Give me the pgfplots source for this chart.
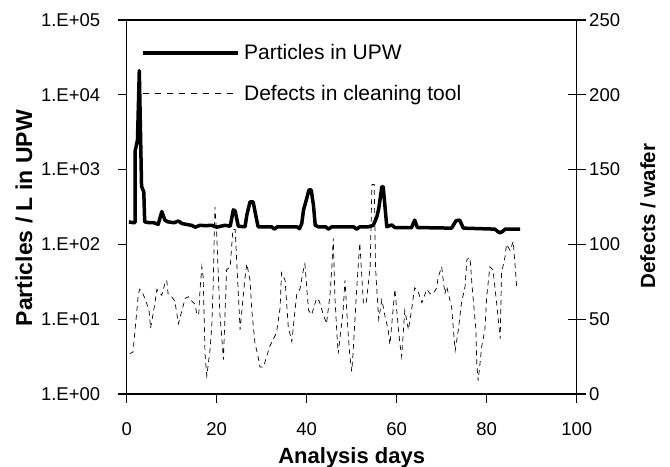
\documentclass[border=0pt]{standalone}
\usepackage{fontspec}
\setmainfont{Liberation Sans}
\usepackage{pgfplots}
\pgfplotsset{compat=1.18}
\pgfplotstableread{
x y
0.5 200
1.5 195
1.85 195
1.9 1800
2.4 2500
2.8 21000
3.3 600
3.8 500
4.0 200
5.0 195
6.0 195
7.0 185
7.8 275
8.5 210
9.2 200
10.5 195
11.5 205
12.3 190
13.3 185
14.4 180
15.2 170
16.3 180
17.5 178
18.9 180
20.0 170
21.8 180
23.0 175
23.7 290
24.1 280
24.8 175
26.3 172
26.7 248
27.4 370
28.1 370
28.9 210
29.2 172
32.2 172
32.8 160
33.5 172
37.8 172
38.4 162
38.9 190
39.3 290
40.0 410
40.5 535
41.0 535
41.5 335
41.9 180
42.6 172
44.2 172
44.8 160
45.6 172
50.4 172
51.1 160
51.8 172
53.7 172
54.8 180
55.6 235
56.0 300
56.7 590
57.0 590
57.4 318
57.8 172
58.9 182
59.6 168
63.3 168
64.0 211
64.6 168
72.2 165
73.2 208
74.0 211
74.8 165
81.8 160
82.5 148
83.0 143
83.6 150
84.1 160
87.4 160
}\particles
\pgfplotstableread{
x y
0.7 27
1.4 28
2.6 67
2.9 70
3.6 67
4.3 62
5.0 55
5.3 44
6.3 61
6.7 70
7.8 66
8.5 74
8.9 76
9.2 67
10.0 65
10.7 62
11.5 47
12.2 55
13.0 64
13.7 65
14.5 62
15.2 60
15.6 53
16.0 53
16.3 70
16.7 85
17.0 78
17.4 27
17.8 12
18.5 29
18.9 45
19.2 70
19.6 125
20.0 107
20.7 54
21.5 23
22.2 83
23.0 85
23.6 110
24.1 110
25.2 43
26.3 78
26.7 87
27.4 76
27.8 56
28.5 34
29.2 25
29.6 18
30.4 18
31.8 32
33.3 41
34.1 58
34.4 81
35.2 76
35.9 45
36.7 35
37.4 56
37.8 67
38.5 70
39.2 82
39.6 87
40.4 56
41.1 53
42.2 64
42.8 62
43.7 53
44.4 47
45.2 67
45.6 85
45.9 104
46.3 63
46.7 41
47.0 27
48.1 56
48.5 76
49.2 41
49.6 25
50.0 15
50.3 27
51.1 70
51.5 88
51.8 101
52.6 61
53.2 60
53.7 74
54.1 85
54.5 140
55.0 140
55.3 85
55.5 74
56.0 50
56.7 63
57.4 52
58.1 43
58.5 33
59.6 70
60.4 43
60.7 34
61.1 25
61.8 56
62.6 43
63.3 56
63.7 65
64.0 71
64.8 68
65.6 61
66.7 70
67.4 67
68.1 67
68.9 71
69.2 78
70.0 85
70.7 67
71.1 72
72.2 58
72.6 43
73.0 29
73.7 43
74.4 61
75.2 72
75.6 90
76.3 91
76.7 74
77.6 43
77.8 20
78.1 9
78.5 20
78.9 32
79.6 43
80.0 65
80.7 85
81.4 83
82.2 61
83.0 37
83.3 81
84.1 92
84.4 100
85.2 96
85.9 102
86.7 70
}\defects
\begin{document}
\begin{tikzpicture}
\begin{axis}[
  at={(0,0)}, anchor=south west,
  scale only axis, width=450bp, height=374bp,
  xmin=0, xmax=100, ymode=log, ymin=1, ymax=100000,
  xtick={0,20,...,100},
  ytick={1,10,100,1000,10000,100000},
  yticklabels={1.E+00,1.E+01,1.E+02,1.E+03,1.E+04,1.E+05},
  minor tick length=0pt,
  tick align=outside, xtick pos=bottom, ytick pos=left,
  major tick length=9bp,
  axis line style={line width=1.2bp},
  every tick/.style={black, line width=1.2bp},
  tick label style={font=\fontsize{18.5bp}{22bp}\selectfont},
  yticklabel style={xshift=-14bp},
  xticklabel style={yshift=-16bp},
  /pgf/number format/assume math mode=true,
  xlabel={Analysis days}, ylabel={Particles / L in UPW},
  every axis x label/.style={at={(axis description cs:0.5,-0.1845)}, anchor=base,
    font=\bfseries\fontsize{22bp}{26bp}\selectfont},
  every axis y label/.style={at={(axis description cs:-0.2104,0.47)}, anchor=base, rotate=90,
    font=\bfseries\fontsize{23bp}{27bp}\selectfont},
  legend image code/.code={\draw[#1] (0bp,0bp) -- (95bp,0bp);},
  legend style={at={(0.025,0.945)}, anchor=north west, draw=none, fill=none,
    font=\fontsize{21bp}{25bp}\selectfont, row sep=20bp,
    nodes={inner xsep=4.5bp}},
  legend cell align=left,
]
\addplot[black, line width=3.5bp, line join=round] table[x=x,y=y]{\particles};
\addlegendentry{Particles in UPW}
\addlegendimage{black, line width=0.8bp, dash pattern=on 6bp off 6bp}
\addlegendentry{Defects in cleaning tool}
\end{axis}
\begin{axis}[
  at={(0,0)}, anchor=south west,
  scale only axis, width=450bp, height=374bp,
  xmin=0, xmax=100, ymin=0, ymax=250,
  axis x line=none, axis y line*=right,
  ytick={0,50,...,250},
  tick align=center, major tick length=18bp,
  axis line style={line width=1.2bp},
  every tick/.style={black, line width=1.2bp},
  tick label style={font=\fontsize{18.5bp}{22bp}\selectfont},
  /pgf/number format/assume math mode=true,
  ylabel={Defects / wafer},
  every axis y label/.style={at={(axis description cs:1.174,0.476)}, anchor=base, rotate=90,
    font=\bfseries\fontsize{20.5bp}{24bp}\selectfont},
]
\addplot[black, line width=0.7bp, dash pattern=on 5bp off 4bp] table[x=x,y=y]{\defects};
\end{axis}
\pgfresetboundingbox
\useasboundingbox (-126.7bp,-73bp) rectangle (543.3bp,394bp);
\end{tikzpicture}
\end{document}
